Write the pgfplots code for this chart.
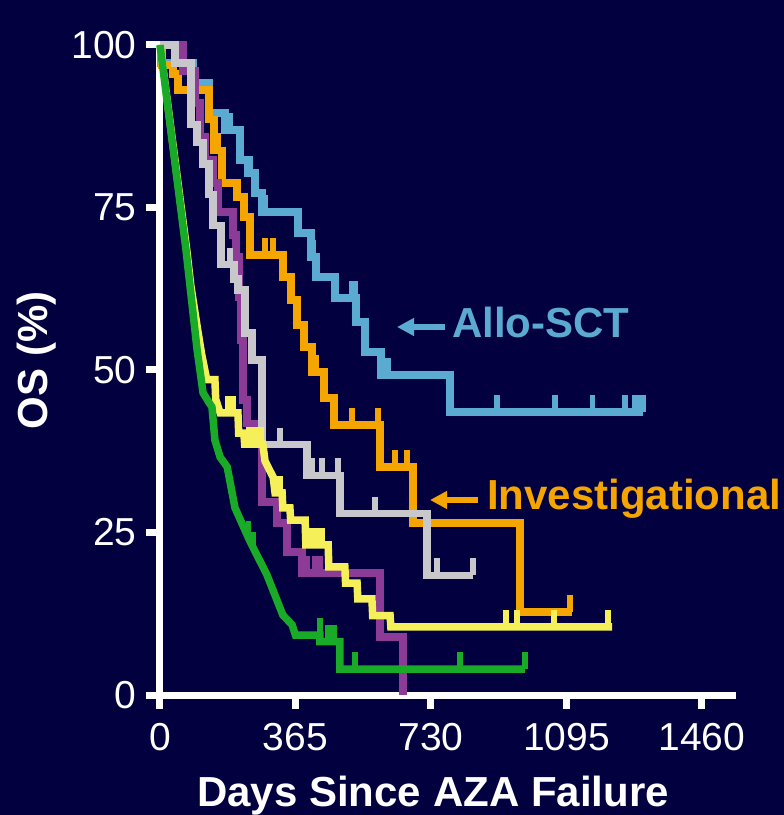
\documentclass[border=0pt]{standalone}
\usepackage{fontspec}
\setmainfont{Liberation Sans}
\usepackage{pgfplots}
\pgfplotsset{compat=1.18}
\usetikzlibrary{arrows.meta}
\definecolor{bgc}{RGB}{2,0,62}
\definecolor{blueC}{RGB}{91,170,209}
\definecolor{orangeC}{RGB}{245,165,0}
\definecolor{grayC}{RGB}{200,200,204}
\definecolor{yellowC}{RGB}{245,240,90}
\definecolor{purpleC}{RGB}{140,60,150}
\definecolor{greenC}{RGB}{25,170,40}
\begin{document}
\begin{tikzpicture}[x=1pt,y=1pt]
\fill[bgc] (0,0) rectangle (784,815);
\useasboundingbox (0,0) rectangle (784,815);
\begin{axis}[
  at={(160pt,120pt)}, anchor=south west,
  scale only axis, width=576pt, height=650pt,
  xmin=0, xmax=1552, ymin=0, ymax=100,
  clip=false,
  axis x line=bottom, axis y line=left,
  axis line style={white, line width=7pt, -},
  every inner x axis line/.append style={-},
  every inner y axis line/.append style={-},
  xtick={0,365,730,1095,1460},
  ytick={0,25,50,75,100},
  tick align=outside,
  major tick length=14pt,
  tick style={white, line width=7pt},
  /pgf/number format/assume math mode=true,
  /pgf/number format/1000 sep={},
  tick label style={white, font=\fontsize{39}{40}\selectfont},
  xticklabel style={yshift=-11pt},
  yticklabel style={xshift=-6pt},
  xlabel={Days Since AZA Failure},
  ylabel={OS (\%)},
  label style={white, font=\fontsize{42}{44}\selectfont\bfseries},
  xlabel style={at={(axis description cs:0.474,-0.172)}, anchor=base},
  ylabel style={at={(axis description cs:-0.196,0.515)}, anchor=base},
  censor/.style={only marks, mark=|, mark size=8.5pt, mark options={line width=5.5pt, yshift=8.5pt}},
  curve/.style={line width=7.5pt},
]
% Allo-SCT
\addplot[const plot, blueC, curve] coordinates {
(0,100) (3,97.2) (89,94.2) (132,89.5) (175,86.9) (216,82.3) (237,80.3) (256,77.2) (275,74.3)
(372,71.1) (407,67.4) (420,64.3) (471,61.1) (528,57.4) (552,52.8) (595,49.2) (781,43.5) (1301,43.5)};
\addplot[censor, blueC] coordinates {
(190,86.9) (243,80.3) (283,74.3) (412,67.4) (517,61.1) (525,61.1) (606,49.2) (616,49.2)
(908,43.5) (1064,43.5) (1166,43.5) (1253,43.5) (1280,43.5) (1293,43.5) (1301,43.5)};
% Investigational
\addplot[const plot, orangeC, curve] coordinates {
(0,100) (5,96.9) (35,95.5) (48,93.1) (132,88.5) (145,83.8) (167,78.8) (207,76.6) (226,73.5)
(242,67.7) (331,64.3) (353,60.8) (369,56.9) (388,53.5) (409,49.7) (442,45.7) (469,41.5)
(593,35.1) (682,26.5) (970,12.8) (1110,12.8)};
\addplot[censor, orangeC] coordinates {
(150,83.8) (158,83.8) (283,67.7) (304,67.7) (420,49.7) (517,41.5) (587,41.5) (633,35.1) (665,35.1) (1105,12.8)};
% purple
\addplot[const plot, purpleC, curve] coordinates {
(0,100) (62,96.0) (94,91.1) (108,85.9) (121,82.3) (143,78.8) (156,74.3) (197,70.8) (205,67.4)
(213,61.2) (218,54.6) (224,45.4) (234,41.8) (275,29.7) (315,26.5) (342,22.0) (383,18.8)
(593,8.9) (655,0)};
\addplot[censor, purpleC] coordinates {(396,18.8) (418,18.8) (431,18.8)};
% gray
\addplot[const plot, grayC, curve] coordinates {
(0,100) (40,97.2) (84,87.8) (100,85.0) (116,81.7) (132,77.0) (143,72.2) (164,66.2) (199,64.0)
(210,62.3) (229,55.7) (248,51.5) (275,38.5) (396,33.8) (485,27.9) (719,18.4) (843,18.4)};
\addplot[censor, grayC] coordinates {
(189,66.2) (323,38.5) (409,33.8) (436,33.8) (480,33.8) (579,27.9) (746,18.4) (843,18.4)};
% yellow
\addplot[yellowC, curve] coordinates {
(0,100) (72,68.5) (83,63) (102,56) (112,52.5) (126,48.5) (148,48.5) (150,45.5) (162,43.4)
(210,43.4) (212,40.3) (226,40.3) (228,38.6) (277,38.6) (283,36) (305,33.5) (310,31.1)
(329,31.1) (331,28.8) (350,28.8) (352,26.9) (391,26.9) (393,23.1) (453,23.1) (455,19.7)
(498,19.7) (500,17.2) (531,17.2) (533,14.8) (571,14.8) (573,12.2) (620,12.2) (622,10.5) (1218,10.5)};
\addplot[censor, yellowC] coordinates {
(183,43.4) (197,43.4) (240,38.6) (250,38.6) (258,38.6) (266,38.6) (273,38.6) (312,31.1)
(318,31.1) (325,31.1) (404,23.1) (415,23.1) (425,23.1) (436,23.1) (453,19.7)
(932,10.5) (962,10.5) (1061,10.5) (1207,10.5)};
% green
\addplot[greenC, curve] coordinates {
(0,100) (70,68.5) (100,53.1) (116,46.5) (132,45) (140,44.3) (148,39.2) (162,36.6) (181,35.1)
(202,28.8) (242,23.7) (288,18.5) (331,12.3) (356,10.8) (365,9.2) (431,9.2) (431,8.2)
(485,8.2) (485,4.0) (983,4.0)};
\addplot[censor, greenC] coordinates {
(238,24.2) (252,22.5) (431,9.2) (452,8.2) (460,8.2) (470,8.2) (525,4) (808,4) (983,4)};
\end{axis}
\draw[blueC, line width=6pt, -{Triangle[length=17pt,width=17pt]}] (445,488) -- (397,488);
\node[anchor=base west, inner sep=0pt, text=blueC, font=\fontsize{42}{44}\selectfont\bfseries] at (452,477) {Allo-SCT};
\draw[orangeC, line width=6pt, -{Triangle[length=17pt,width=17pt]}] (478,315) -- (430,315);
\node[anchor=base west, inner sep=0pt, text=orangeC, font=\fontsize{42}{44}\selectfont\bfseries] at (487,305) {Investigational};
\end{tikzpicture}
\end{document}
